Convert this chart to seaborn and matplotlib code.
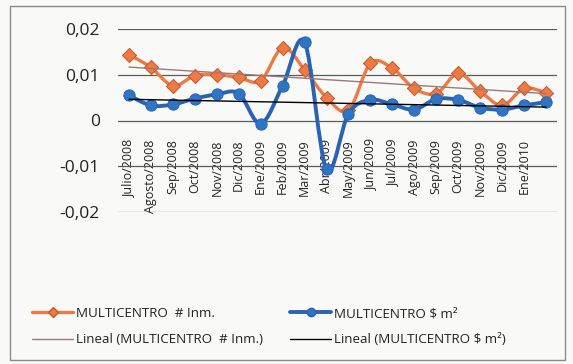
import numpy as np
import matplotlib
matplotlib.use("Agg")
import matplotlib.pyplot as plt
import seaborn as sns
from matplotlib.path import Path
from matplotlib.patches import PathPatch, Rectangle
from matplotlib.lines import Line2D

# ---- data -------------------------------------------------------------
months = ["Julio/2008", "Agosto/2008", "Sep/2008", "Oct/2008", "Nov/2008",
          "Dic/2008", "Ene/2009", "Feb/2009", "Mar/2009", "Abr/2009",
          "May/2009", "Jun/2009", "Jul/2009", "Ago/2009", "Sep/2009",
          "Oct/2009", "Nov/2009", "Dic/2009", "Ene/2010", ""]
inm = [0.0144, 0.0116, 0.0076, 0.0098, 0.0100, 0.0094, 0.0087, 0.0159,
       0.0111, 0.0050, 0.0022, 0.0125, 0.0114, 0.0070, 0.0059, 0.0103,
       0.0064, 0.0033, 0.0070, 0.0061]
m2 = [0.0055, 0.0033, 0.0035, 0.0048, 0.0057, 0.0059, -0.0007, 0.0076,
      0.0171, -0.0107, 0.0015, 0.0045, 0.0035, 0.0024, 0.0047, 0.0045,
      0.0028, 0.0024, 0.0033, 0.0040]
y_ticks = [-0.02, -0.01, 0.0, 0.01, 0.02]
y_tick_labels = ["-0,02", "-0,01", "0", "0,01", "0,02"]

lbl_inm = "MULTICENTRO  # Inm."
lbl_m2 = r"MULTICENTRO \$ m²"
lbl_tr_inm = "Lineal (MULTICENTRO  # Inm.)"
lbl_tr_m2 = r"Lineal (MULTICENTRO \$ m²)"

# ---- style ------------------------------------------------------------
sns.set_style("white")
plt.rcParams["font.family"] = ["Open Sans", "DejaVu Sans"]

ORANGE = "#EE7A43"
ORANGE_EDGE = "#C4582C"
BLUE = "#2A62B4"
BLUE_MARK = "#2E76C4"
TREND_ORANGE = "#9C7878"
GRID = "#5A5A5A"
BG = "#F9F9F8"

W, H = 573, 364
fig = plt.figure(figsize=(W / 100, H / 100), dpi=100, facecolor=BG)
ax = fig.add_axes([118 / W, 1 - 212 / H, (557 - 118) / W, (212 - 29) / H])
ax.set_facecolor("none")

x = np.arange(len(months))


def smooth_path(xs, ys):
    """Cubic Bezier path through every point (Catmull-Rom style)."""
    pts = np.column_stack([xs, ys]).astype(float)
    n = len(pts)
    verts = [pts[0]]
    codes = [Path.MOVETO]
    for i in range(n - 1):
        p0 = pts[i - 1] if i > 0 else pts[i]
        p1, p2 = pts[i], pts[i + 1]
        p3 = pts[i + 2] if i + 2 < n else pts[i + 1]
        verts += [p1 + (p2 - p0) / 6, p2 - (p3 - p1) / 6, p2]
        codes += [Path.CURVE4] * 3
    return Path(verts, codes)


# category axis crosses the value axis at zero
ax.spines["bottom"].set_position(("data", 0))
for s in ax.spines.values():
    s.set_visible(False)

# gridlines
for yt in y_ticks:
    ax.axhline(yt, color=GRID, lw=0.9, zorder=1)

# smoothed series lines
ax.add_patch(PathPatch(smooth_path(x, inm), fill=False, edgecolor=ORANGE,
                       lw=2.4, capstyle="round", joinstyle="round", zorder=2))
ax.add_patch(PathPatch(smooth_path(x, m2), fill=False, edgecolor=BLUE,
                       lw=2.8, capstyle="round", joinstyle="round", zorder=3))

# markers
sns.scatterplot(x=x, y=inm, marker="D", s=52, color=ORANGE,
                edgecolor=ORANGE_EDGE, linewidth=0.7, ax=ax, zorder=2.5,
                legend=False)
sns.scatterplot(x=x, y=m2, marker="o", s=66, color=BLUE_MARK,
                edgecolor=BLUE, linewidth=0.7, ax=ax, zorder=3.5,
                legend=False)

# linear trendlines
for vals, col in ((inm, TREND_ORANGE), (m2, "black")):
    k, b = np.polyfit(x, vals, 1)
    ax.plot(x[[0, -1]], k * x[[0, -1]] + b, color=col, lw=1.0, zorder=4)

# axes
ax.set_xlim(-0.5, len(months) - 0.5)
ax.set_ylim(-0.02, 0.02)
ax.set_yticks(y_ticks)
ax.set_yticklabels(y_tick_labels, fontsize=12.5, color="#222222")
ax.set_xticks(x)
ax.set_xticklabels(months, rotation=90, fontsize=9, color="#222222")
ax.tick_params(axis="y", length=0, pad=13)
ax.tick_params(axis="x", length=0, pad=13.5)

# legends
h_inm = Line2D([], [], color=ORANGE, lw=2.4, marker="D", ms=5.5,
               mfc=ORANGE, mec=ORANGE_EDGE)
h_m2 = Line2D([], [], color=BLUE, lw=2.8, marker="o", ms=6,
              mfc=BLUE_MARK, mec=BLUE)
h_tr_inm = Line2D([], [], color=TREND_ORANGE, lw=1.0)
h_tr_m2 = Line2D([], [], color="black", lw=1.0)
leg_kw = dict(loc="upper left", frameon=False, fontsize=9.6,
              handlelength=3.1, handletextpad=0.2, borderpad=0,
              borderaxespad=0, labelspacing=1.0, labelcolor="#222222")
fig.legend([h_inm, h_tr_inm], [lbl_inm, lbl_tr_inm],
           bbox_to_anchor=(32 / W, 1 - 307 / H), **leg_kw)
fig.legend([h_m2, h_tr_m2], [lbl_m2, lbl_tr_m2],
           bbox_to_anchor=(290 / W, 1 - 307 / H), **leg_kw)

# chart border
fig.add_artist(Rectangle((10 / W, 1 - 360 / H), 555 / W, 354 / H,
                         transform=fig.transFigure, fill=False,
                         edgecolor="#8A8A8A", lw=1.0))

fig.savefig("out.png", dpi=100, facecolor=BG)
